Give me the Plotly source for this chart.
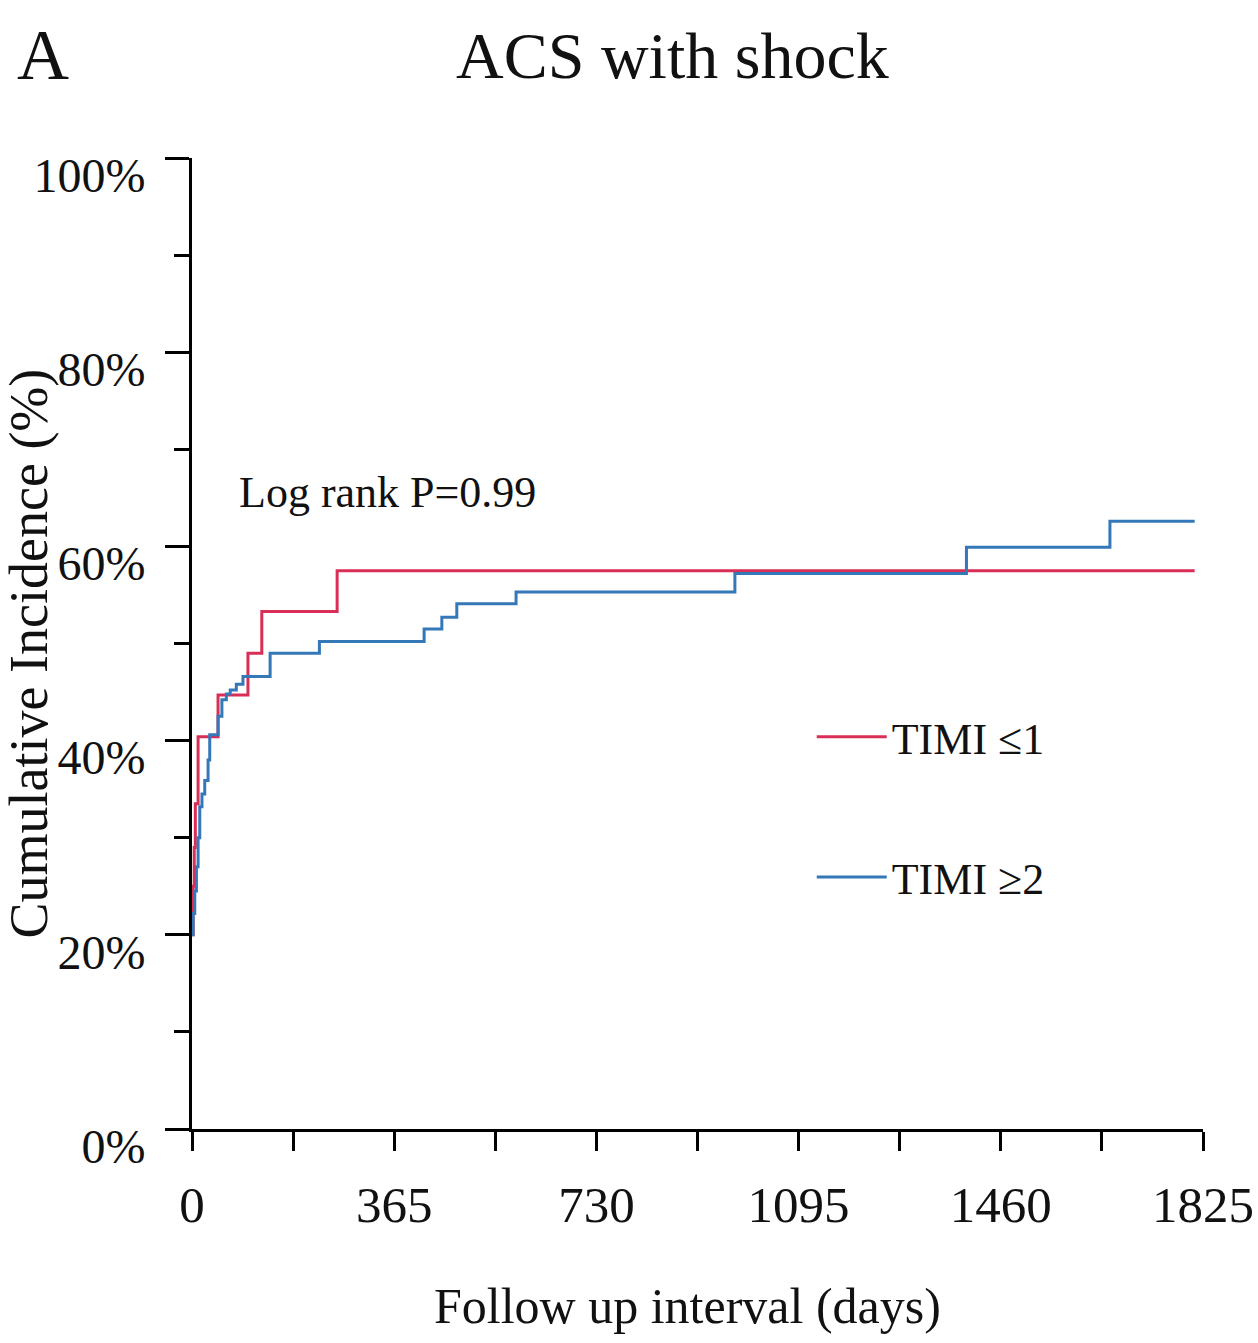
import plotly.graph_objects as go

# ---- data ----
timi_low_days = [0, 2, 4, 6, 11, 47, 101, 126, 262, 1810]
timi_low_cum = [20.0, 25.0, 29.0, 33.5, 40.4, 44.7, 49.0, 53.3, 57.5, 57.5]

timi_high_days = [0, 2, 5, 8, 11, 14, 18, 23, 29, 32, 47, 54, 62, 69, 80, 92,
                  141, 230, 419, 451, 478, 585, 980, 1398, 1657, 1810]
timi_high_cum = [20.0, 22.2, 24.5, 27.0, 30.0, 33.2, 34.5, 35.9, 38.0, 40.6, 42.5,
                 44.2, 44.8, 45.2, 45.8, 46.6, 49.0, 50.2, 51.5, 52.7, 54.1,
                 55.3, 57.2, 59.9, 62.6, 62.6]

series_names = ["TIMI ≤1", "TIMI ≥2"]
series_colors = ["#d92e55", "#3578b8"]

x_tickvals = [0, 365, 730, 1095, 1460, 1825]
y_tickvals = [0, 20, 40, 60, 80, 100]
y_ticktext = ["0%", "20%", "40%", "60%", "80%", "100%"]

title_text = "ACS with shock"
panel_label = "A"
pvalue_text = "Log rank P=0.99"
x_title = "Follow up interval (days)"
y_title = "Cumulative Incidence (%)"

FONT = "Liberation Serif, Times New Roman, serif"

fig = go.Figure()
for days, cum, name, color, grp in [
    (timi_low_days, timi_low_cum, series_names[0], series_colors[0], "a"),
    (timi_high_days, timi_high_cum, series_names[1], series_colors[1], "b"),
]:
    fig.add_trace(go.Scatter(
        x=days, y=cum, mode="lines", name=name, legendgroup=grp,
        line=dict(color=color, width=3, shape="hv"),
    ))

axis_common = dict(
    showgrid=False, zeroline=False, showline=True, linecolor="black",
    linewidth=3, ticks="outside", tickcolor="black", tickwidth=3,
    automargin=False,
)

fig.update_xaxes(
    range=[0, 1825], tickvals=x_tickvals, ticklen=19,
    minor=dict(dtick=182.5, tick0=0, ticks="outside", ticklen=19,
               tickcolor="black", tickwidth=3),
    ticklabelstandoff=10,
    tickfont=dict(family=FONT, size=51, color="#111"),
    **axis_common,
)
fig.update_yaxes(
    range=[0, 100], tickvals=y_tickvals, ticktext=y_ticktext, ticklen=24,
    minor=dict(dtick=10, tick0=0, ticks="outside", ticklen=15,
               tickcolor="black", tickwidth=3),
    ticklabelshift=17, ticklabelstandoff=10,
    tickfont=dict(family=FONT, size=48, color="#111"),
    **axis_common,
)

fig.add_annotation(text=title_text, xref="paper", yref="paper", x=0.475, y=1.106,
                   xanchor="center", yanchor="middle", showarrow=False,
                   font=dict(family=FONT, size=66, color="#111"))
fig.add_annotation(text=panel_label, xref="paper", yref="paper", x=-0.175, y=1.106,
                   xanchor="left", yanchor="middle", showarrow=False,
                   font=dict(family=FONT, size=72, color="#111"))
fig.add_annotation(text=pvalue_text, xref="x", yref="y", x=81, y=65.6,
                   xanchor="left", yanchor="middle", showarrow=False,
                   font=dict(family=FONT, size=44, color="#111"))
fig.add_annotation(text=x_title, xref="paper", yref="paper", x=0.49, y=-0.182,
                   xanchor="center", yanchor="middle", showarrow=False,
                   font=dict(family=FONT, size=50, color="#111"))
fig.add_annotation(text=y_title, xref="paper", yref="paper", x=-0.161, y=0.49,
                   xanchor="center", yanchor="middle", showarrow=False, textangle=-90,
                   font=dict(family=FONT, size=54, color="#111"))

fig.update_layout(
    width=1258, height=1343,
    margin=dict(l=192, r=55, t=158, b=214),
    paper_bgcolor="white", plot_bgcolor="white",
    showlegend=True,
    legend=dict(x=0.613, y=0.44, xanchor="left", yanchor="top",
                bgcolor="rgba(0,0,0,0)", font=dict(family=FONT, size=44, color="#111"),
                tracegroupgap=80, itemwidth=70, traceorder="grouped"),
)

fig.write_html(
    "out.html",
    config={"displayModeBar": False},
    post_script="document.body.style.margin='0';document.body.style.overflow='hidden';",
)
